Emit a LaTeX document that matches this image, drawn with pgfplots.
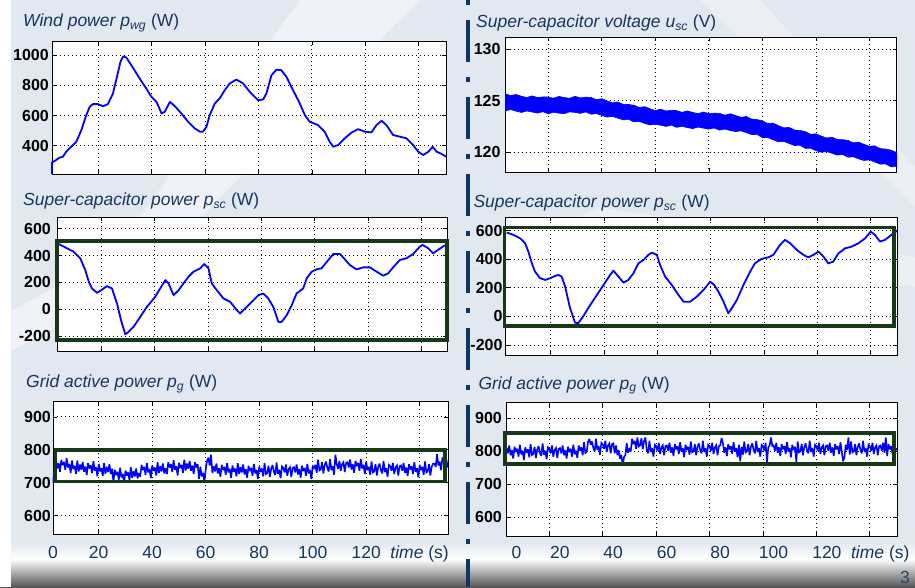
\documentclass[border=0pt]{standalone}
\usepackage{fontspec}
\setmainfont{Liberation Sans}
\usepackage{pgfplots}
\pgfplotsset{compat=1.18}
\definecolor{navy}{RGB}{23,54,93}
\definecolor{bgc}{RGB}{226,232,239}
\definecolor{boxg}{RGB}{22,56,22}
\definecolor{sepc}{RGB}{15,55,100}
\definecolor{pblue}{RGB}{0,0,255}
\newcommand\tickfont{\fontsize{16}{16}\selectfont\bfseries}
\newcommand\titlefont{\fontsize{17.5}{19}\selectfont}
\newcommand\xlabfont{\fontsize{17.5}{19}\selectfont}
\tikzset{gbox/.style={boxg, line width=3.6pt}}
\pgfplotsset{panel/.style={scale only axis, anchor=south west,
  axis background/.style={fill=white},
  axis line style={black,line width=0.8pt},
  xmajorgrids, ymajorgrids,
  major grid style={black, line width=0.75pt, dash pattern=on 0.75pt off 3.25pt},
  tick align=inside, major tick length=4pt,
  tick style={black,line width=0.6pt},
  xtick={20,40,60,80,100,120,140}, xticklabels={},
  yticklabel style={font=\tickfont, text=black, inner sep=2pt},
  clip=false},
  curve/.style={pblue, line width=1.8pt, line join=round, no markers},
  noisy/.style={pblue, line width=1.6pt, line join=miter, miter limit=3, no markers}}
\begin{document}
\begin{tikzpicture}
\useasboundingbox (0pt,0pt) rectangle (915pt,587pt);
\fill[bgc] (0pt,0pt) rectangle (915pt,587pt);
\fill[white, opacity=0.45] (300pt,587pt) -- (420pt,587pt) -- (130pt,300pt) -- (0pt,230pt) -- (0pt,270pt) -- (110pt,330pt) -- cycle;
\fill[white, opacity=0.35] (700pt,587pt) -- (760pt,587pt) -- (915pt,420pt) -- (915pt,380pt) -- cycle;
\fill[white, opacity=0.35] (470pt,320pt) -- (600pt,380pt) -- (915pt,330pt) -- (915pt,300pt) -- (600pt,350pt) -- cycle;
\shade[top color=bgc, bottom color=white] (0pt,28pt) rectangle (915pt,45pt);
\shade[top color=white, bottom color={rgb,255:red,85;green,85;blue,85}] (0pt,0pt) rectangle (915pt,28pt);
\fill[white] (0pt,0pt) rectangle (11pt,587pt);
\draw[sepc, line width=4pt, dash pattern=on 5pt off 15pt on 42pt off 15pt] (468pt,587pt) -- (468pt,0pt);
\node[anchor=base west, inner sep=0pt, text=navy!80!gray, font=\xlabfont] at (900pt,4pt) {3};

% ---------- Left 1: wind power
\begin{axis}[panel, at={(52pt,413pt)}, width=394pt, height=133pt,
  xmin=2.8, xmax=150.2, ymin=212, ymax=1095,
  ytick={400,600,800,1000}, yticklabels={400,600,800,1000},
  yticklabel style={xshift=-1pt}]
\addplot[curve] coordinates {(2.8,212)(2.85,290)(4.0,300)(5.5,320)(6.9,327)(8.1,360)(10,393)(11.9,426)(13.8,504)(15.4,592)(16.9,658)(18.1,676)(20,676)(21.9,662)(23.7,676)(25.6,746)(27.1,857)(28.4,956)(29.4,993)(30.6,985)(32.5,934)(35.6,846)(38.1,779)(40,724)(41.9,691)(43.8,614)(45,625)(46.9,691)(48.8,662)(51.2,614)(53.7,559)(56.2,515)(58.1,493)(59.3,493)(60.6,526)(61.8,603)(63.7,680)(65.5,713)(67.4,768)(69.3,813)(71.8,839)(74.3,813)(76.8,757)(79.9,702)(81.8,707)(83,746)(84.9,868)(86.8,905)(88.6,901)(90.5,857)(93,768)(95.5,680)(97.4,603)(99.2,559)(102.3,537)(104.8,493)(106.7,426)(108,393)(109.8,404)(112.3,449)(114.8,486)(117.3,510)(119.8,493)(122.3,488)(124.2,537)(126.1,565)(127.9,537)(130.4,471)(132.9,460)(135.4,449)(137.9,404)(139.8,360)(141.7,338)(143.6,360)(145.2,393)(146.7,360)(148.6,345)(150.2,327)};
\end{axis}
\node[anchor=base west, inner sep=0pt, text=navy, font=\titlefont] at (23pt,560pt) {\textit{Wind power p\textsubscript{wg}} (W)};

% ---------- Left 2: SC power
\begin{axis}[panel, at={(57pt,236pt)}, width=390pt, height=134pt,
  xmin=3.4, xmax=149.6, ymin=-312, ymax=688,
  ytick={-200,0,200,400,600}, yticklabels={-200,0,200,400,600},
  yticklabel style={xshift=-4pt}]
\addplot[curve] coordinates {(3.6,480)(4.0,487)(7.1,455)(9.6,430)(12.1,380)(14.0,292)(15.3,205)(16.5,155)(18.4,122)(20,142)(22.1,172)(24.0,155)(25.9,42)(27.4,-82)(29,-187)(30.2,-170)(32.1,-132)(34.6,-57)(37.1,17)(40.2,92)(42.1,155)(44.0,217)(45.2,192)(47.1,105)(49,142)(50.8,192)(52.7,242)(54.6,280)(57.1,305)(58.6,337)(60.2,305)(61.4,192)(63.3,142)(65.8,80)(68.3,55)(70.8,-7)(72.0,-32)(73.9,5)(76.4,55)(78.9,105)(80.8,117)(82.6,80)(84.5,17)(86.4,-95)(87.6,-95)(89.5,-45)(91.4,30)(93.2,117)(95.7,155)(97.0,230)(98.9,280)(100.7,297)(102.6,305)(105.1,367)(107.0,412)(109.5,412)(111.3,372)(113.2,330)(115.7,297)(118.2,312)(120.7,312)(123.2,280)(125.7,250)(127.5,267)(129.4,312)(131.9,367)(134.4,380)(136.9,412)(139.4,467)(140.4,480)(142.5,455)(144.4,417)(146.2,442)(148.4,472)(149.4,478)};
\draw[gbox] (axis cs:3.4,-230) rectangle (axis cs:149.6,510);
\end{axis}
\node[anchor=base west, inner sep=0pt, text=navy, font=\titlefont] at (23pt,381pt) {\textit{Super-capacitor power p\textsubscript{sc}} (W)};

% ---------- Left 3: grid power
\begin{axis}[panel, at={(53pt,53pt)}, width=395pt, height=133pt,
  xmin=2.9, xmax=150.6, ymin=544, ymax=948,
  ytick={600,700,800,900}, yticklabels={600,700,800,900},
  xtick={2.9,20,40,60,80,100,120,140},
  xticklabels={0,20,40,60,80,100,120,{\textit{time} (s)}},
  xticklabel style={anchor=base, yshift=-24.5pt, font=\xlabfont, text=navy}]
\addplot[noisy] coordinates {
(3.0,700)(3.5,749)(4.0,773)(4.5,743)(5.0,759)(5.5,733)(6.0,769)(6.5,753)(7.0,763)(7.5,739)(8.0,775)(8.5,746)(9.0,757)(9.5,729)(10.0,767)(10.5,741)(11.0,751)(11.5,727)(12.0,767)(12.5,734)
(13.0,755)(13.5,739)(14.0,763)(14.5,733)(15.0,749)(15.5,723)(16.0,759)(16.5,743)(17.0,753)(17.5,729)(18.0,765)(18.5,736)(19.0,747)(19.5,719)(20.0,757)(20.5,734)(21.0,744)(21.5,720)(22.0,760)(22.5,727)
(23.0,748)(23.5,732)(24.0,756)(24.5,726)(25.0,742)(25.5,703)(26.0,739)(26.5,723)(27.0,733)(27.5,709)(28.0,745)(28.5,716)(29.0,727)(29.5,699)(30.0,737)(30.5,721)(31.0,731)(31.5,707)(32.0,747)(32.5,714)
(33.0,735)(33.5,719)(34.0,743)(34.5,713)(35.0,729)(35.5,718)(36.0,754)(36.5,738)(37.0,748)(37.5,724)(38.0,760)(38.5,731)(39.0,742)(39.5,714)(40.0,752)(40.5,736)(41.0,746)(41.5,722)(42.0,762)(42.5,729)
(43.0,750)(43.5,734)(44.0,758)(44.5,728)(45.0,744)(45.5,726)(46.0,762)(46.5,746)(47.0,756)(47.5,732)(48.0,768)(48.5,739)(49.0,750)(49.5,722)(50.0,760)(50.5,744)(51.0,754)(51.5,730)(52.0,770)(52.5,737)
(53.0,758)(53.5,742)(54.0,766)(54.5,736)(55.0,752)(55.5,726)(56.0,762)(56.5,746)(57.0,756)(57.5,712)(58.0,748)(58.5,719)(59.0,730)(59.5,702)(60.0,740)(60.5,766)(61.0,776)(61.5,752)(62.0,785)(62.5,729)
(63.0,750)(63.5,734)(64.0,758)(64.5,728)(65.0,744)(65.5,718)(66.0,754)(66.5,738)(67.0,748)(67.5,724)(68.0,760)(68.5,731)(69.0,742)(69.5,714)(70.0,752)(70.5,733)(71.0,743)(71.5,719)(72.0,759)(72.5,726)
(73.0,747)(73.5,731)(74.0,755)(74.5,725)(75.0,741)(75.5,715)(76.0,751)(76.5,735)(77.0,745)(77.5,721)(78.0,757)(78.5,728)(79.0,739)(79.5,711)(80.0,749)(80.5,733)(81.0,743)(81.5,719)(82.0,759)(82.5,726)
(83.0,729)(83.5,751)(84.0,717)(84.5,743)(85.0,753)(85.5,733)(86.0,723)(86.5,761)(87.0,727)(87.5,739)(88.0,713)(88.5,749)(89.0,745)(89.5,731)(90.0,755)(90.5,721)(91.0,741)(91.5,747)(92.0,717)(92.5,745)
(93.0,747)(93.5,731)(94.0,755)(94.5,725)(95.0,741)(95.5,715)(96.0,751)(96.5,735)(97.0,745)(97.5,721)(98.0,757)(98.5,728)(99.0,739)(99.5,711)(100.0,749)(100.5,744)(101.0,754)(101.5,730)(102.0,770)(102.5,737)
(103.0,740)(103.5,762)(104.0,728)(104.5,754)(105.0,764)(105.5,744)(106.0,734)(106.5,772)(107.0,738)(107.5,750)(108.0,724)(108.5,785)(109.0,756)(109.5,742)(110.0,766)(110.5,736)(111.0,756)(111.5,762)(112.0,732)(112.5,760)
(113.0,762)(113.5,746)(114.0,770)(114.5,740)(115.0,756)(115.5,730)(116.0,766)(116.5,750)(117.0,760)(117.5,736)(118.0,772)(118.5,743)(119.0,754)(119.5,726)(120.0,764)(120.5,738)(121.0,748)(121.5,724)(122.0,764)(122.5,731)
(123.0,734)(123.5,756)(124.0,722)(124.5,748)(125.0,758)(125.5,738)(126.0,728)(126.5,766)(127.0,732)(127.5,744)(128.0,718)(128.5,754)(129.0,750)(129.5,736)(130.0,760)(130.5,726)(131.0,746)(131.5,752)(132.0,722)(132.5,750)
(133.0,752)(133.5,736)(134.0,760)(134.5,730)(135.0,746)(135.5,720)(136.0,756)(136.5,740)(137.0,750)(137.5,726)(138.0,762)(138.5,733)(139.0,744)(139.5,716)(140.0,754)(140.5,738)(141.0,748)(141.5,724)(142.0,764)(142.5,731)
(143.0,734)(143.5,756)(144.0,722)(144.5,748)(145.0,758)(145.5,758)(146.0,748)(146.5,786)(147.0,752)(147.5,764)(148.0,738)(148.5,774)(149.0,770)(149.5,756)(150.0,770)(150.5,746)};
\draw[gbox] (axis cs:3.8,704) rectangle (axis cs:149.4,800);
\end{axis}
\node[anchor=base west, inner sep=0pt, text=navy, font=\titlefont] at (26pt,199.3pt) {\textit{Grid active power p\textsubscript{g}} (W)};

% ---------- Right 1: SC voltage
\begin{axis}[panel, at={(505.7pt,414.7pt)}, width=391pt, height=135pt,
  xmin=4.1, xmax=150.2, ymin=118.07, ymax=131.13,
  ytick={120,125,130}, yticklabels={120,125,130},
  yticklabel style={xshift=-3pt}]
\addplot[pblue, fill=pblue, line width=0.6pt, no markers] coordinates {
(4.1,125.65)(6,125.49)(8,125.60)(10,125.42)(12,125.31)(14,125.46)(16,125.30)(18,125.36)(20,125.35)(22,125.23)(24,125.41)(26,125.30)(28,125.23)(30,125.42)(32,125.27)(34,125.34)(36,125.31)(38,125.10)(40,125.19)(42,124.97)(44,124.79)(46,124.87)(48,124.64)(50,124.63)(52,124.56)(54,124.34)(56,124.42)(58,124.21)(60,124.04)(62,124.18)(64,124.01)(66,124.06)(68,124.04)(70,123.87)(72,124.01)(74,123.86)(76,123.75)(78,123.90)(80,123.74)(82,123.79)(84,123.77)(86,123.60)(88,123.73)(90,123.57)(92,123.39)(94,123.47)(96,123.22)(98,123.17)(100,123.05)(102,122.79)(104,122.83)(106,122.58)(108,122.37)(110,122.42)(112,122.16)(114,122.12)(116,122.01)(118,121.75)(120,121.79)(122,121.57)(124,121.39)(126,121.47)(128,121.24)(130,121.23)(132,121.15)(134,120.92)(136,120.99)(138,120.77)(140,120.59)(142,120.63)(144,120.36)(146,120.32)(148,120.22)(150.2,119.97)
(150.2,118.62)(148,118.60)(146,118.89)(144,118.86)(142,119.07)(140,119.28)(138,119.21)(136,119.37)(134,119.57)(132,119.53)(130,119.80)(128,119.74)(126,119.91)(124,120.08)(122,120.01)(120,120.17)(118,120.40)(116,120.39)(114,120.69)(112,120.66)(110,120.86)(108,121.06)(106,121.02)(104,121.21)(102,121.44)(100,121.43)(98,121.74)(96,121.72)(94,121.91)(92,122.08)(90,122.01)(88,122.11)(86,122.25)(84,122.15)(82,122.36)(80,122.24)(78,122.34)(76,122.44)(74,122.30)(72,122.39)(70,122.52)(68,122.42)(66,122.63)(64,122.51)(62,122.62)(60,122.73)(58,122.65)(56,122.80)(54,122.99)(52,122.94)(50,123.20)(48,123.14)(46,123.31)(44,123.48)(42,123.41)(40,123.57)(38,123.75)(36,123.69)(34,123.91)(32,123.77)(30,123.86)(28,123.92)(26,123.74)(24,123.79)(22,123.88)(20,123.73)(18,123.93)(16,123.80)(14,123.90)(12,124.00)(10,123.86)(8,123.98)(6,124.14)(4.1,124.03)} -- cycle;
\end{axis}
\node[anchor=base west, inner sep=0pt, text=navy, font=\titlefont] at (476pt,559.3pt) {\textit{Super-capacitor voltage u\textsubscript{sc}} (V)};

% ---------- Right 2: SC power
\begin{axis}[panel, at={(505.7pt,232pt)}, width=391.6pt, height=137.7pt,
  xmin=3.1, xmax=150, ymin=-270, ymax=693,
  ytick={-200,0,200,400,600}, yticklabels={-200,0,200,400,600},
  yticklabel style={xshift=-1pt}]
\addplot[curve] coordinates {(3.5,586)(6,570)(8.5,546)(10.4,511)(11.6,453)(12.9,371)(14.1,313)(16,267)(17.9,255)(19.8,267)(21.6,283)(22.9,290)(24.1,278)(25.4,208)(27.1,68)(29.1,-44)(30.3,-48)(32.1,-2)(34.8,80)(37.3,150)(39.8,220)(42.3,290)(43.5,320)(45.4,278)(47.3,236)(49.1,255)(51,301)(52.9,371)(54.8,395)(56.6,430)(57.9,446)(59.8,430)(61,360)(62.9,278)(65.4,220)(67.9,150)(69.8,103)(72.3,103)(74.8,138)(77.3,185)(79.8,243)(81.3,220)(82.9,173)(84.8,103)(86.6,22)(87.9,57)(89.8,115)(92.3,220)(94.8,313)(96.6,371)(99.1,402)(101.6,413)(103.5,430)(106,500)(107.9,535)(109.8,511)(112.3,465)(114.8,430)(116.6,413)(118.5,430)(120.4,453)(122.3,418)(124.1,371)(126,383)(127.9,441)(130.4,476)(132.9,488)(135.4,511)(137.9,546)(140,593)(141.6,570)(143.5,523)(145.4,535)(147.3,563)(149.1,588)(150,600)};
\draw[gbox] (axis cs:2.7,-67) rectangle (axis cs:148.7,621);
\end{axis}
\node[anchor=base west, inner sep=0pt, text=navy, font=\titlefont] at (473.3pt,379.3pt) {\textit{Super-capacitor power p\textsubscript{sc}} (W)};

% ---------- Right 3: grid power
\begin{axis}[panel, at={(506pt,51pt)}, width=391.3pt, height=133.3pt,
  xmin=3.8, xmax=150.3, ymin=543.4, ymax=947.5,
  ytick={600,700,800,900}, yticklabels={600,700,800,900},
  yticklabel style={xshift=-2pt},
  xtick={3.8,20,40,60,80,100,120,140},
  xticklabels={0,20,40,60,80,100,120,{\textit{time} (s)}},
  xticklabel style={anchor=base, xshift=10.5pt, yshift=-22.7pt, font=\xlabfont, text=navy}]
\addplot[noisy] coordinates {
(4.0,810)(4.5,794)(5.0,818)(5.5,788)(6.0,804)(6.5,778)(7.0,814)(7.5,798)(8.0,808)(8.5,784)(9.0,820)(9.5,791)(10.0,802)(10.5,774)(11.0,812)(11.5,796)(12.0,806)(12.5,782)(13.0,822)(13.5,789)
(14.0,792)(14.5,814)(15.0,780)(15.5,806)(16.0,816)(16.5,796)(17.0,786)(17.5,824)(18.0,790)(18.5,802)(19.0,776)(19.5,812)(20.0,808)(20.5,794)(21.0,818)(21.5,784)(22.0,804)(22.5,810)(23.0,780)(23.5,808)
(24.0,810)(24.5,794)(25.0,818)(25.5,788)(26.0,804)(26.5,778)(27.0,814)(27.5,798)(28.0,808)(28.5,784)(29.0,820)(29.5,791)(30.0,802)(30.5,780)(31.0,818)(31.5,802)(32.0,812)(32.5,788)(33.0,828)(33.5,795)
(34.0,798)(34.5,828)(35.0,838)(35.5,820)(36.0,830)(36.5,810)(37.0,800)(37.5,838)(38.0,804)(38.5,816)(39.0,790)(39.5,826)(40.0,822)(40.5,808)(41.0,832)(41.5,798)(42.0,818)(42.5,824)(43.0,794)(43.5,822)
(44.0,824)(44.5,794)(45.0,818)(45.5,788)(46.0,804)(46.5,778)(47.0,789)(47.5,758)(48.0,783)(48.5,789)(49.0,825)(49.5,796)(50.0,807)(50.5,800)(51.0,838)(51.5,822)(52.0,832)(52.5,808)(53.0,842)(53.5,815)
(54.0,818)(54.5,840)(55.0,806)(55.5,832)(56.0,842)(56.5,804)(57.0,794)(57.5,832)(58.0,798)(58.5,810)(59.0,784)(59.5,820)(60.0,816)(60.5,802)(61.0,826)(61.5,792)(62.0,812)(62.5,818)(63.0,788)(63.5,816)
(64.0,818)(64.5,802)(65.0,826)(65.5,796)(66.0,812)(66.5,786)(67.0,822)(67.5,806)(68.0,816)(68.5,792)(69.0,828)(69.5,799)(70.0,810)(70.5,782)(71.0,820)(71.5,804)(72.0,814)(72.5,790)(73.0,830)(73.5,797)
(74.0,800)(74.5,822)(75.0,788)(75.5,814)(76.0,824)(76.5,804)(77.0,794)(77.5,832)(78.0,798)(78.5,810)(79.0,784)(79.5,820)(80.0,816)(80.5,802)(81.0,826)(81.5,792)(82.0,812)(82.5,818)(83.0,788)(83.5,816)
(84.0,818)(84.5,840)(85.0,826)(85.5,796)(86.0,812)(86.5,786)(87.0,822)(87.5,806)(88.0,816)(88.5,792)(89.0,828)(89.5,799)(90.0,810)(90.5,782)(91.0,820)(91.5,770)(92.0,814)(92.5,790)(93.0,830)(93.5,797)
(94.0,800)(94.5,822)(95.0,788)(95.5,814)(96.0,824)(96.5,804)(97.0,794)(97.5,832)(98.0,798)(98.5,810)(99.0,784)(99.5,820)(100.0,816)(100.5,802)(101.0,826)(101.5,768)(102.0,812)(102.5,818)(103.0,842)(103.5,816)
(104.0,818)(104.5,802)(105.0,826)(105.5,796)(106.0,812)(106.5,786)(107.0,822)(107.5,806)(108.0,816)(108.5,792)(109.0,828)(109.5,799)(110.0,810)(110.5,782)(111.0,820)(111.5,804)(112.0,814)(112.5,768)(113.0,830)(113.5,797)
(114.0,800)(114.5,822)(115.0,788)(115.5,814)(116.0,824)(116.5,804)(117.0,794)(117.5,832)(118.0,798)(118.5,810)(119.0,784)(119.5,820)(120.0,816)(120.5,802)(121.0,826)(121.5,792)(122.0,812)(122.5,818)(123.0,788)(123.5,816)
(124.0,818)(124.5,802)(125.0,826)(125.5,796)(126.0,812)(126.5,786)(127.0,822)(127.5,806)(128.0,816)(128.5,792)(129.0,828)(129.5,799)(130.0,770)(130.5,782)(131.0,820)(131.5,804)(132.0,842)(132.5,790)(133.0,830)(133.5,797)
(134.0,800)(134.5,822)(135.0,788)(135.5,814)(136.0,824)(136.5,804)(137.0,794)(137.5,832)(138.0,798)(138.5,810)(139.0,784)(139.5,820)(140.0,816)(140.5,802)(141.0,826)(141.5,792)(142.0,812)(142.5,818)(143.0,788)(143.5,816)
(144.0,818)(144.5,802)(145.0,826)(145.5,796)(146.0,842)(146.5,786)(147.0,822)(147.5,806)(148.0,816)(148.5,792)(149.0,828)(149.5,799)(150.0,810)};
\draw[gbox] (axis cs:3.4,761) rectangle (axis cs:149.1,856);
\end{axis}
\node[anchor=base west, inner sep=0pt, text=navy, font=\titlefont] at (478.3pt,197.7pt) {\textit{Grid active power p\textsubscript{g}} (W)};
\end{tikzpicture}
\end{document}
